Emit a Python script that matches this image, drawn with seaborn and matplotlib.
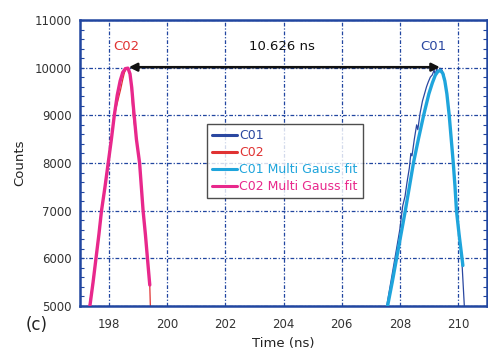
import matplotlib
matplotlib.use("Agg")
import matplotlib.pyplot as plt
import seaborn as sns
import pandas as pd
from matplotlib.ticker import MultipleLocator

# ---- data ----
c01_x = [207.55, 207.72, 207.86, 208.00, 208.10, 208.18, 208.25, 208.33, 208.38, 208.42,
         208.50, 208.58, 208.62, 208.70, 208.78, 208.85, 208.92, 208.98, 209.05, 209.12,
         209.18, 209.22, 209.27, 209.32, 209.38, 209.45, 209.52, 209.60, 209.70, 209.80,
         209.88, 209.95, 210.05, 210.14, 210.22]
c01_y = [5000, 5600, 6100, 6600, 7100, 7300, 7600, 7900, 8200, 8150,
         8500, 8800, 8700, 9050, 9300, 9450, 9600, 9700, 9800, 9850,
         9950, 9850, 9980, 9900, 9990, 9950, 9850, 9550, 9000, 8300,
         7700, 7000, 6500, 5900, 5000]

c02_x = [197.32, 197.44, 197.54, 197.64, 197.73, 197.85, 197.96, 198.07, 198.18, 198.30,
         198.40, 198.47, 198.53, 198.58, 198.65, 198.74, 198.83, 198.94, 199.05, 199.11,
         199.17, 199.25, 199.32, 199.40, 199.42]
c02_y = [5000, 5500, 6000, 6500, 7000, 7500, 8000, 8500, 9000, 9300,
         9550, 9750, 9900, 9960, 9990, 9800, 9000, 8500, 8000, 7500,
         7000, 6500, 6000, 5440, 5000]

c01_fit_x = [207.58, 207.74, 207.89, 208.04, 208.19, 208.33, 208.47, 208.64, 208.82, 209.00,
             209.12, 209.22, 209.31, 209.40, 209.48, 209.55, 209.62, 209.70, 209.77, 209.84,
             209.90, 209.95, 210.04, 210.14, 210.17]
c01_fit_y = [5000, 5500, 6000, 6500, 7000, 7500, 8000, 8500, 9000, 9450,
             9680, 9840, 9920, 9940, 9880, 9720, 9450, 9000, 8500, 8000,
             7500, 7000, 6500, 6000, 5850]

c02_fit_x = [197.34, 197.45, 197.55, 197.65, 197.74, 197.86, 197.97, 198.08, 198.18, 198.28,
             198.38, 198.47, 198.56, 198.65, 198.72, 198.78, 198.84, 198.94, 199.05, 199.11,
             199.17, 199.25, 199.32, 199.40]
c02_fit_y = [5000, 5500, 6000, 6500, 7000, 7500, 8000, 8500, 9000, 9420,
             9720, 9900, 9980, 9990, 9870, 9580, 9150, 8500, 8000, 7500,
             7000, 6500, 6000, 5440]

peak_c02 = 198.68
peak_c01 = 209.38
delta_label = "10.626 ns"
x_ticks = [198, 200, 202, 204, 206, 208, 210]
y_ticks = [5000, 6000, 7000, 8000, 9000, 10000, 11000]

# ---- style ----
sns.set_style("white")
plt.rcParams['font.family'] = ['DejaVu Sans']

BLUE = "#2a47a0"
RED = "#e03232"
CYAN = "#1fa5dc"
MAGENTA = "#e8288c"
FRAME = "#2146a0"

fig = plt.figure(figsize=(4.88, 3.62), dpi=100)
ax = fig.add_axes([80/488, 1-306/362, 407/488, 286/362])

series = [
    (c01_x, c01_y, "C01", BLUE, 0.9, 2),
    (c02_x, c02_y, "C02", RED, 0.9, 2),
    (c01_fit_x, c01_fit_y, "C01 Multi Gauss fit", CYAN, 2.4, 3),
    (c02_fit_x, c02_fit_y, "C02 Multi Gauss fit", MAGENTA, 2.4, 3),
]
for xs, ys, lab, col, lw, z in series:
    df = pd.DataFrame({"x": xs, "y": ys})
    sns.lineplot(data=df, x="x", y="y", sort=False, estimator=None, ax=ax,
                 color=col, lw=lw, label=lab, zorder=z)

ax.set_xlim(197, 211)
ax.set_ylim(5000, 11000)
ax.set_xticks(x_ticks)
ax.set_yticks(y_ticks)
ax.yaxis.set_minor_locator(MultipleLocator(200))
ax.tick_params(axis='both', which='both', direction='in', colors=FRAME,
               labelcolor="#333333", labelsize=8.5)
ax.tick_params(axis='y', which='both', right=True, left=True, length=3, width=0.8)
ax.tick_params(axis='x', which='major', length=3, width=0.8, pad=9)
ax.tick_params(axis='y', which='major', pad=6)

ax.grid(True, which='major', color=FRAME, lw=0.9, ls=(0, (3, 1.5, 1, 1.5)))
for s in ax.spines.values():
    s.set_color(FRAME)
    s.set_linewidth(1.8)

ax.set_xlabel("Time (ns)", fontsize=9.5, color="#222222", labelpad=4)
ax.set_ylabel("Counts", fontsize=9.5, color="#222222", labelpad=6)

# arrow and annotations
ax.annotate("", xy=(peak_c01, 10010), xytext=(peak_c02, 10010),
            arrowprops=dict(arrowstyle="<|-|>", color="#111111", lw=1.8,
                            mutation_scale=12, shrinkA=0, shrinkB=0), zorder=5)
ax.text((peak_c02 + peak_c01) / 2 - 0.08, 10450, delta_label, ha='center', va='center',
        fontsize=9.5, color="#111111")
ax.text(198.6, 10450, "C02", ha='center', va='center', fontsize=9.5, color=RED)
ax.text(209.16, 10450, "C01", ha='center', va='center', fontsize=9.5, color=BLUE)

leg = ax.legend(loc='upper left', bbox_to_anchor=(0.312, 0.636), frameon=True,
                fancybox=False, edgecolor="#222222", fontsize=9.0, handlelength=2.0,
                handletextpad=0.2, borderpad=0.4, labelspacing=0.32, borderaxespad=0)
leg.get_frame().set_linewidth(1.0)
for txt, line in zip(leg.get_texts(), leg.get_lines()):
    txt.set_color(line.get_color())
    line.set_linewidth(2.2)

fig.text(37/488, 1-325/362, "(c)", ha='center', va='center', fontsize=12, color="#222222")

fig.savefig("out.png", dpi=100)
